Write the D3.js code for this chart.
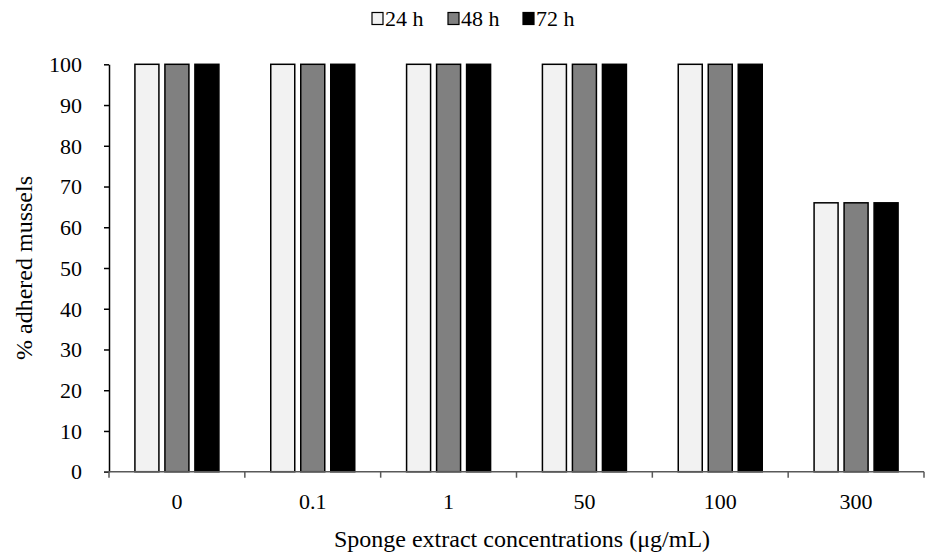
<!DOCTYPE html>
<html><head><meta charset="utf-8">
<script src="https://cdn.jsdelivr.net/npm/d3@7"></script>
<style>body{margin:0;background:#fff}svg{display:block}</style>
</head><body>
<svg id="chart" width="929" height="554"></svg>
<script>
const categories = ["0", "0.1", "1", "50", "100", "300"];
const seriesNames = ["24 h", "48 h", "72 h"];
const values24 = [100, 100, 100, 100, 100, 66];
const values48 = [100, 100, 100, 100, 100, 66];
const values72 = [100, 100, 100, 100, 100, 66];
const yTicks = [0, 10, 20, 30, 40, 50, 60, 70, 80, 90, 100];
const colors = ["#f2f2f2", "#808080", "#000000"];
const seriesValues = [values24, values48, values72];

const svg = d3.select("#chart");
const font = "'Liberation Serif','Times New Roman',serif";
const pLeft = 109, pRight = 924, pTop = 64.3, pBottom = 471.7;

const x = d3.scaleBand().domain(categories).range([pLeft, pRight]);
const y = d3.scaleLinear().domain([0, 100]).range([pBottom, pTop]);
const barW = 24, barStep = 30;

// bars
categories.forEach((c, i) => {
  const cx = x(c) + x.bandwidth() / 2;
  seriesValues.forEach((vals, s) => {
    const bx = cx - barStep + (s * barStep) - barW / 2;
    svg.append("rect")
      .attr("x", bx).attr("y", y(vals[i]))
      .attr("width", barW).attr("height", y(0) - y(vals[i]))
      .attr("fill", colors[s]).attr("stroke", "#000").attr("stroke-width", 1.5);
  });
});

// y axis
const yAxis = svg.append("g").attr("transform", `translate(${pLeft},0)`)
  .call(d3.axisLeft(y).tickValues(yTicks).tickSize(5).tickSizeOuter(0).tickPadding(22));
yAxis.selectAll("path,line").attr("stroke", "#000").attr("stroke-width", 1.5);
yAxis.selectAll("text").attr("font-family", font).attr("font-size", 22).attr("fill", "#000").attr("dy", "0.33em");

// x axis
const xAxis = svg.append("g").attr("transform", `translate(0,${pBottom})`);
xAxis.append("line").attr("x1", pLeft - 5).attr("x2", pRight).attr("y1", 0).attr("y2", 0)
  .attr("stroke", "#595959").attr("stroke-width", 1.5);
const edges = categories.map(c => x(c)).concat([pRight]);
xAxis.selectAll("line.tk").data(edges).enter().append("line")
  .attr("x1", d => d).attr("x2", d => d).attr("y1", 0).attr("y2", 6)
  .attr("stroke", "#595959").attr("stroke-width", 1.5);
xAxis.selectAll("text").data(categories).enter().append("text")
  .attr("x", d => x(d) + x.bandwidth() / 2).attr("y", 37)
  .attr("text-anchor", "middle").attr("font-family", font).attr("font-size", 22)
  .text(d => d);

// axis titles
svg.append("text").attr("x", 522).attr("y", 547).attr("text-anchor", "middle")
  .attr("font-family", font).attr("font-size", 24).text("Sponge extract concentrations (μg/mL)");
svg.append("text").attr("transform", "translate(32,268) rotate(-90)").attr("text-anchor", "middle")
  .attr("font-family", font).attr("font-size", 24).text("% adhered mussels");

// legend
const legX = [372, 448, 523];
seriesNames.forEach((n, s) => {
  svg.append("rect").attr("x", legX[s]).attr("y", 12.5).attr("width", 11).attr("height", 12)
    .attr("fill", colors[s]).attr("stroke", "#000").attr("stroke-width", 1.2);
  svg.append("text").attr("x", legX[s] + 13).attr("y", 26)
    .attr("font-family", font).attr("font-size", 22).text(n);
});
</script>
</body></html>
